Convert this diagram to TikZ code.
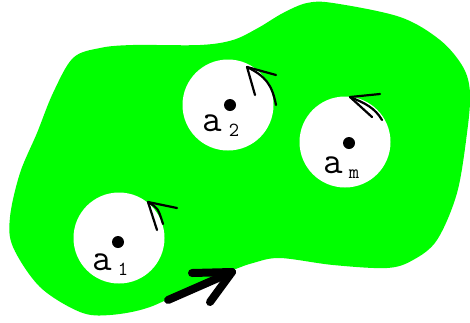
\documentclass[tikz,border=0pt]{standalone}
\usepackage{tikz}
\usetikzlibrary{positioning}
\definecolor{blobgreen}{RGB}{0,255,0}
\begin{document}
\begin{tikzpicture}[
    x=1pt, y=-1pt,
    hole/.style={circle, fill=white, minimum size=91pt, inner sep=0pt},
    centre/.style={circle, fill=black, minimum size=12pt, inner sep=0pt},
    letter/.style={font=\ttfamily\fontsize{38}{38}\selectfont, inner sep=0pt},
    index/.style={font=\ttfamily\fontsize{20}{20}\selectfont, inner sep=0pt},
    turnmark/.style={draw, line width=2.2pt, line cap=round, line join=round},
    bigmark/.style={draw, line width=8pt, line cap=round, line join=round}
]
\useasboundingbox (0,0) rectangle (470,322);
\fill[blobgreen] plot[smooth cycle, tension=0.55] coordinates {
    (100,48) (133,45) (200,45) (233,40) (258,28) (283,13) (307,3) (333,3)
    (400,17) (440,40) (463,67) (470,93) (467,133) (457,193) (437,240)
    (413,260) (387,268) (333,265) (280,258) (253,263) (233,270) (200,283)
    (150,307) (110,315) (80,312) (40,287) (13,247) (10,217) (20,173)
    (37,133) (53,93) (73,58)};
\node[hole] (h1) at (119,238) {};
\node[hole] (h2) at (228,105) {};
\node[hole] (hm) at (345,142) {};
\node[centre] (c1) at (118,242) {};
\node[centre] (c2) at (230,105) {};
\node[centre] (cm) at (349,143) {};
\node[letter] (a1) at (102,262) {a};
\node[index] (i1) at (123,269) {1};
\node[letter] (a2) at (212,123) {a};
\node[index] (i2) at (234,130) {2};
\node[letter] (am) at (333,165) {a};
\node[index] (im) at (354,174) {m};
\path[turnmark] (177,208) -- (148,202) -- (157,230);
\path[turnmark] (148,202) .. controls (158,208) .. (163,224);
\path[turnmark] (276,75) -- (247,67) -- (255,95);
\path[turnmark] (247,67) .. controls (265,76) and (272,84) .. (276,105);
\path[turnmark] (380,94) -- (350,97) -- (372,117);
\path[turnmark] (350,97) .. controls (365,103) and (375,108) .. (382,120);
\path[bigmark] (168,300) -- (232,272);
\path[bigmark] (192,273) -- (232,272) -- (210,302);
\end{tikzpicture}
\end{document}
